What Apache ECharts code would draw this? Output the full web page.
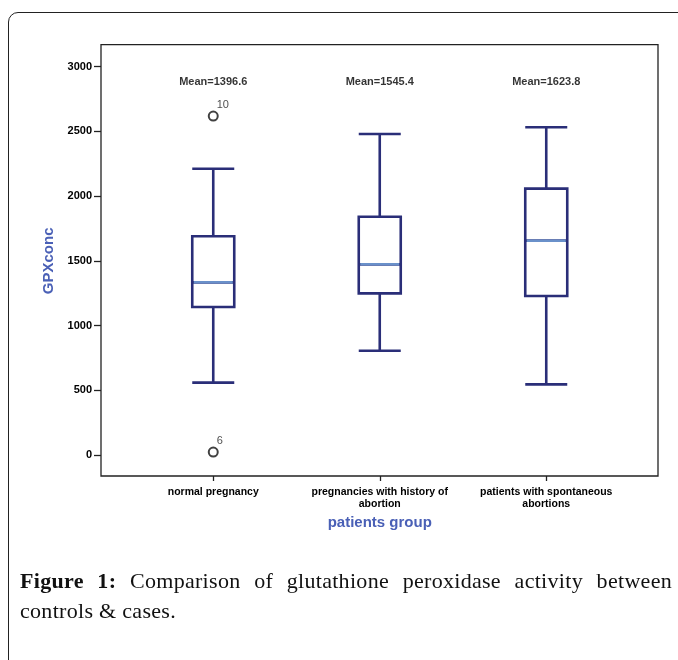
<!DOCTYPE html>
<html>
<head>
<meta charset="utf-8">
<script src="https://cdn.jsdelivr.net/npm/echarts@6/dist/echarts.min.js"></script>
<style>
  body { margin: 0; background: #fff; }
  #wrap { position: relative; width: 678px; height: 660px; overflow: hidden; }
  #frame { position: absolute; left: 8px; top: 12px; width: 700px; height: 700px;
           border: 1.3px solid #222; border-top-left-radius: 10px; box-sizing: border-box; }
  #chart { position: absolute; left: 0; top: 0; width: 678px; height: 660px; }
  #caption { position: absolute; left: 20px; top: 566px; width: 652px;
             font-family: "Liberation Serif", "DejaVu Serif", serif; font-size: 22px;
             letter-spacing: 0.3px; line-height: 30px; color: #111; }
  #caption .l1 { text-align: justify; text-align-last: justify; white-space: nowrap; }
</style>
</head>
<body>
<div id="wrap">
  <div id="frame"></div>
  <div id="chart"></div>
  <div id="caption">
    <div class="l1"><b>Figure 1:</b> Comparison of glutathione peroxidase activity between</div>
    <div>controls &amp; cases.</div>
  </div>
</div>
<script>
// categories
var groups = ['normal pregnancy', 'pregnancies with history of\nabortion', 'patients with spontaneous\nabortions'];
// [min, Q1, median, Q3, max]
var boxes = [
	[559, 1143, 1334, 1690, 2212],
	[806, 1249, 1473, 1841, 2480],
	[546, 1228, 1656, 2058, 2532]
];
var means = [1396.6, 1545.4, 1623.8];
// outliers: [group index, value, case no]
var outliers = [
	[0, 2619, '10'],
	[0, 23, '6']
];

var navy = '#2a2e78';
var titleBlue = '#4a60b6';
var fontFam = '"Liberation Sans", Arial, sans-serif';

var chart = echarts.init( document.getElementById('chart') );

var medianData = boxes.map( function( b, i ){ return [ i, b[2] ]; } );
var meanData = means.map( function( m, i ){ return { value: [ i, 2885 ], mean: m }; } );
var outlierData = outliers.map( function( o ){ return { value: [ o[0], o[1] ], name: o[2] }; } );

chart.setOption({
	animation: false,
	graphic: [{
		type: 'rect',
		shape: { x: 101, y: 44.7, width: 557, height: 431.3 },
		style: { fill: 'none', stroke: '#222', lineWidth: 1.3 },
		z: 1
	}],
	grid: { left: 130, right: 48.5, top: 66.7, bottom: 205 },
	xAxis: {
		type: 'category',
		data: groups,
		offset: 21,
		boundaryGap: true,
		axisLine: { show: false, onZero: false },
		axisTick: { show: true, alignWithLabel: true, length: 5, lineStyle: { color: '#222', width: 1.3 } },
		axisLabel: {
			color: '#000', fontFamily: fontFam, fontWeight: 'bold', fontSize: 10.5,
			lineHeight: 12, margin: 10, interval: 0
		},
		name: 'patients group',
		nameLocation: 'middle',
		nameGap: 34,
		nameTextStyle: { color: titleBlue, fontFamily: fontFam, fontWeight: 'bold', fontSize: 15 }
	},
	yAxis: {
		type: 'value',
		min: 0,
		max: 3000,
		interval: 500,
		offset: 29,
		splitLine: { show: false },
		axisLine: { show: false, onZero: false },
		axisTick: { show: true, length: 7, lineStyle: { color: '#222', width: 1.3 } },
		axisLabel: {
			color: '#000', fontFamily: fontFam, fontWeight: 'bold', fontSize: 11, margin: 9,
			formatter: function( v ){ return String( v ); }
		},
		name: 'GPXconc',
		nameLocation: 'middle',
		nameGap: 40,
		nameRotate: 90,
		nameTextStyle: { color: titleBlue, fontFamily: fontFam, fontWeight: 'bold', fontSize: 15 }
	},
	series: [
		{
			type: 'boxplot',
			data: boxes,
			boxWidth: [42, 42],
			itemStyle: { color: '#fff', borderColor: navy, borderWidth: 2.6 },
			z: 3
		},
		{
			type: 'scatter',
			data: medianData,
			symbol: 'rect',
			symbolSize: [39, 2.5],
			itemStyle: { color: '#7aaadf' },
			z: 4
		},
		{
			type: 'scatter',
			data: outlierData,
			symbol: 'emptyCircle',
			symbolSize: 9,
			itemStyle: { color: '#111', borderColor: '#111', borderWidth: 0.9 },
			label: {
				show: true,
				position: [ 9, -11 ],
				formatter: function( p ){ return p.name; },
				color: '#222', fontFamily: fontFam, fontSize: 11
			},
			z: 4
		},
		{
			type: 'scatter',
			data: meanData,
			symbolSize: 1,
			itemStyle: { color: 'transparent' },
			label: {
				show: true,
				position: 'inside',
				formatter: function( p ){ return 'Mean=' + p.data.mean.toFixed(1); },
				color: '#000', fontFamily: fontFam, fontWeight: 'bold', fontSize: 11
			},
			z: 4
		}
	]
});
</script>
</body>
</html>
